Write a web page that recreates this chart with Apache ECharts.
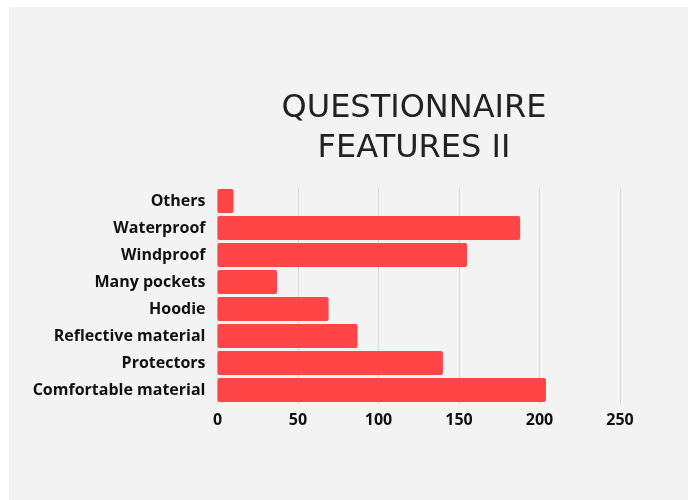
<!DOCTYPE html>
<html>
<head>
<meta charset="utf-8">
<script src="https://cdn.jsdelivr.net/npm/echarts@6/dist/echarts.min.js"></script>
<style>
html,body{margin:0;padding:0;background:#ffffff;}
#main{width:688px;height:500px;}
</style>
</head>
<body>
<div id="main"></div>
<script>
const titleLines = ['QUESTIONNAIRE', 'FEATURES II'];
const categories = ['Others', 'Waterproof', 'Windproof', 'Many pockets', 'Hoodie', 'Reflective material', 'Protectors', 'Comfortable material'];
const values = [10, 188, 155, 37, 69, 87, 140, 204];
const xTicks = [0, 50, 100, 150, 200, 250];

const chart = echarts.init(document.getElementById('main'), null, {renderer: 'canvas'});
chart.setOption({
  animation: false,
  backgroundColor: 'transparent',
  graphic: [{
    type: 'rect',
    z: -10,
    shape: {x: 9, y: 7, width: 679, height: 493},
    style: {fill: '#f3f3f3'}
  }],
  title: {
    text: titleLines.join('\n'),
    left: 409,
    top: 84,
    textAlign: 'center',
    textStyle: {
      fontFamily: 'DejaVu Sans',
      fontSize: 32,
      fontWeight: 'normal',
      color: '#222222',
      lineHeight: 40
    }
  },
  grid: {left: 217.5, right: 68, top: 187.5, bottom: 96.5, containLabel: false},
  xAxis: {
    type: 'value',
    min: xTicks[0],
    max: xTicks[xTicks.length - 1],
    interval: 50,
    axisLine: {show: false},
    axisTick: {show: false},
    splitLine: {show: true, lineStyle: {color: '#d9d9d9', width: 1}},
    axisLabel: {
      margin: 9,
      fontFamily: 'Open Sans',
      fontWeight: 'bold',
      fontSize: 16,
      color: '#111111'
    }
  },
  yAxis: {
    type: 'category',
    data: categories,
    inverse: true,
    axisLine: {show: false},
    axisTick: {show: false},
    splitLine: {show: false},
    axisLabel: {
      margin: 12,
      fontFamily: 'Open Sans',
      fontWeight: 'bold',
      fontSize: 16,
      color: '#111111',
      padding: [7, 0, 0, 0]
    }
  },
  series: [{
    type: 'bar',
    data: values,
    barWidth: 24,
    itemStyle: {color: '#ff4545', borderRadius: 2}
  }]
});
</script>
</body>
</html>
